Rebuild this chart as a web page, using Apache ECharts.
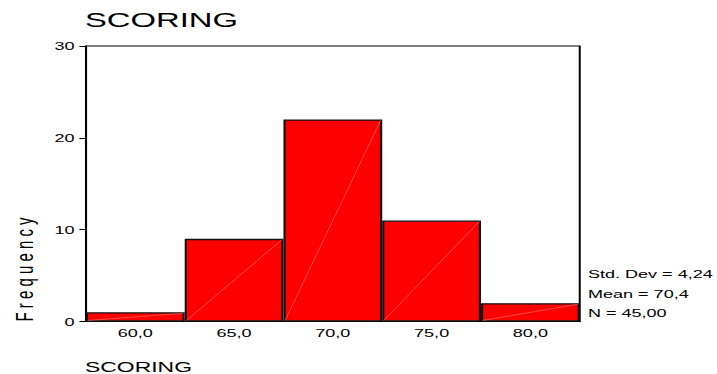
<!DOCTYPE html>
<html><head><meta charset="utf-8">
<script src="https://cdn.jsdelivr.net/npm/echarts@6/dist/echarts.min.js"></script>
<style>
html,body{margin:0;padding:0;background:#fff;overflow:hidden;}
#wrap{width:717px;height:374px;overflow:hidden;}
#c{width:437.2px;height:374px;transform:scaleX(1.64);transform-origin:0 0;}
</style></head><body>
<div id="wrap"><div id="c"></div></div>
<script>
const categories = ['60,0','65,0','70,0','75,0','80,0'];
const frequencies = [1, 9, 22, 11, 2];
const yTicks = [0, 10, 20, 30];
const titleText = 'SCORING';
const xAxisName = 'SCORING';
const yAxisName = 'F r e q u e n c y';
const statsLines = ['Std. Dev = 4,24', 'Mean = 70,4', 'N = 45,00'];

const chart = echarts.init(document.getElementById('c'), null, {renderer:'svg'});
const font = 'Arial, "Liberation Sans", sans-serif';
chart.setOption({
  animation:false,
  grid:{left:52.4, right:83.5, top:46, bottom:52.5, show:true, borderColor:'#000', borderWidth:1.2, backgroundColor:'transparent'},
  xAxis:{type:'category', data:categories,
    axisLine:{lineStyle:{color:'#000', width:1.2}},
    axisTick:{alignWithLabel:true, length:3, lineStyle:{color:'#000'}},
    axisLabel:{color:'#000', fontSize:11, fontFamily:font, margin:6}},
  yAxis:{type:'value', min:yTicks[0], max:yTicks[yTicks.length-1], interval:10,
    splitLine:{show:false},
    axisLine:{show:true, lineStyle:{color:'#000', width:1.2}},
    axisTick:{show:true, length:4, lineStyle:{color:'#000'}},
    axisLabel:{color:'#000', fontSize:11, fontFamily:font, margin:7}},
  series:[{type:'bar', data:frequencies, barCategoryGap:'0%',
    itemStyle:{color:'#ff0000', borderColor:'#111', borderWidth:1.3}},
    {type:'custom', data:frequencies.map((v,i)=>[i,v]), z:5, silent:true,
     renderItem:function(params, api){
       const i = api.value(0), v = api.value(1);
       const top = api.coord([i, v]);
       const bot = api.coord([i, 0]);
       const w = api.size([1,0])[0];
       return {type:'line', shape:{x1:bot[0]-w/2+1, y1:bot[1]-1, x2:top[0]+w/2-1, y2:top[1]+1},
         style:{stroke:'rgba(255,140,140,0.8)', lineWidth:0.5}};
     }}],
  graphic:[
    {type:'text', left:51.8, top:10, style:{text:titleText, fontSize:20, fontFamily:font, fill:'#000'}},
    {type:'text', x:51.8, y:367, style:{text:xAxisName, fontSize:14, fontFamily:font, fill:'#000', verticalAlign:'middle'}},
    {type:'text', x:15.2, y:269.5, rotation:Math.PI/2, style:{text:yAxisName, fontSize:15, fontFamily:font, fill:'#000', align:'center', verticalAlign:'middle'}},
    {type:'text', x:358.5, y:274, style:{text:statsLines[0], fontSize:11, fontFamily:font, fill:'#000', verticalAlign:'middle'}},
    {type:'text', x:358.5, y:294, style:{text:statsLines[1], fontSize:11, fontFamily:font, fill:'#000', verticalAlign:'middle'}},
    {type:'text', x:358.5, y:313, style:{text:statsLines[2], fontSize:11, fontFamily:font, fill:'#000', verticalAlign:'middle'}}
  ]
});
</script></body></html>
